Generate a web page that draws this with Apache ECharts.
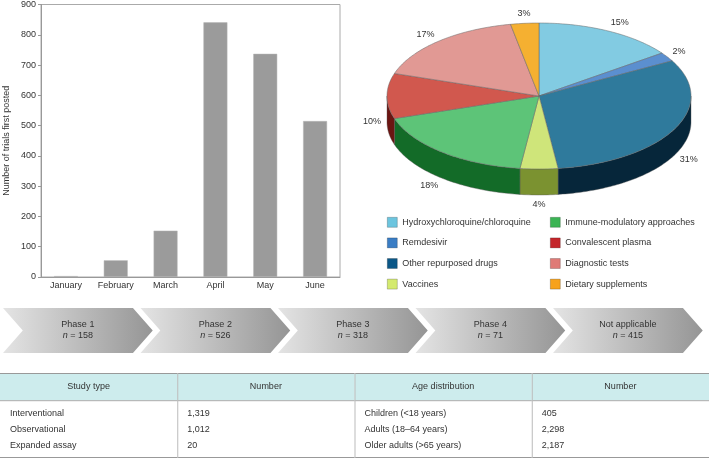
<!DOCTYPE html>
<html>
<head>
<meta charset="utf-8">
<title>COVID-19 trials</title>
<script src="https://cdn.jsdelivr.net/npm/echarts@6/dist/echarts.min.js"></script>
<style>
html, body { margin: 0; padding: 0; background: #fff; }
#main { width: 709px; height: 459px; }
</style>
</head>
<body>
<div id="main"></div>
<script>
// bar chart: trials first posted per month
var months = ['January', 'February', 'March', 'April', 'May', 'June'];
var trialsPosted = [3, 55, 153, 841, 737, 515];

// pie: share of trials by intervention
var interventions = ['Hydroxychloroquine/chloroquine', 'Remdesivir', 'Other repurposed drugs', 'Vaccines',
  'Immune-modulatory approaches', 'Convalescent plasma', 'Diagnostic tests', 'Dietary supplements'];
var shares = [15, 2, 31, 4, 18, 10, 17, 3];
var topColors = ['#82cbe2', '#5b8fcf', '#2f7a9c', '#cfe57a', '#5dc478', '#d1584e', '#e19994', '#f5b031'];
var sideColors = ['#3d7f94', '#1f3f6e', '#06263a', '#7b9230', '#136b28', '#6b1512', '#8a4541', '#9a6a10'];
var legendColors = ['#6cc5df', '#3a7dc4', '#0b5787', '#d4ea6e', '#3bb454', '#c4262b', '#df7a76', '#f7a21b'];

// chevrons: trial phases
var phases = ['Phase 1', 'Phase 2', 'Phase 3', 'Phase 4', 'Not applicable'];
var phaseCounts = [158, 526, 318, 71, 415];

// table
var tableHeaders = ['Study type', 'Number', 'Age distribution', 'Number'];
var studyTypes = ['Interventional', 'Observational', 'Expanded assay'];
var studyCounts = [1319, 1012, 20];
var ageGroups = ['Children (<18 years)', 'Adults (18\u201364 years)', 'Older adults (>65 years)'];
var ageCounts = [405, 2298, 2187];

var FONT = 'Liberation Sans';
var fmt = function (n) { return n.toLocaleString('en-US'); };
var tableColumns = [studyTypes, studyCounts.map(fmt), ageGroups, ageCounts.map(fmt)];

var total = shares.reduce(function (a, b) { return a + b; }, 0);
var startAngles = [];
var acc = 0;
shares.forEach(function (s) { startAngles.push(acc / total * 360); acc += s; });

var chart = echarts.init(document.getElementById('main'));

function renderSlice(params, api) {
  var i = params.dataIndex;
  var a0 = startAngles[i];
  var a1 = a0 + api.value(2) / total * 360;
  var depth = 26;
  var pt = function (deg, kx, ky) {
    var r = deg * Math.PI / 180;
    return api.coord([kx * Math.sin(r), ky * Math.cos(r)]);
  };
  var children = [];
  var top = [api.coord([0, 0])];
  for (var d = a0; d < a1; d += 1) top.push(pt(d, 1, 1));
  top.push(pt(a1, 1, 1));
  children.push({
    type: 'polygon', z2: 10, shape: { points: top },
    style: { fill: topColors[i], stroke: '#666', lineWidth: 0.5 }
  });
  var s0 = Math.max(a0, 90), s1 = Math.min(a1, 270);
  if (s1 > s0) {
    var upper = [];
    for (var e = s0; e < s1; e += 1) upper.push(pt(e, 1, 1));
    upper.push(pt(s1, 1, 1));
    var lower = upper.map(function (p) { return [p[0], p[1] + depth]; }).reverse();
    children.push({
      type: 'polygon', z2: 1, shape: { points: upper.concat(lower) },
      style: { fill: sideColors[i], stroke: '#555', lineWidth: 0.4 }
    });
  }
  var mid = (a0 + a1) / 2 * Math.PI / 180;
  var sn = Math.sin(mid), cs = Math.cos(mid);
  var lp = api.coord([1.04 * sn, 1.13 * cs]);
  if (cs < 0) lp[1] += depth;
  children.push({
    type: 'text', z2: 20, x: lp[0], y: lp[1],
    style: {
      text: api.value(2) + '%', fill: '#333', fontSize: 9, fontFamily: FONT,
      align: Math.abs(sn) < 0.2 ? 'center' : (sn > 0 ? 'left' : 'right'),
      verticalAlign: 'middle'
    }
  });
  return { type: 'group', children: children };
}

function renderChevron(params, api) {
  var i = api.value(0);
  var tl = api.coord([i, 1]);
  var br = api.coord([i + 1, 0]);
  var h = br[1] - tl[1];
  var body = (br[0] - tl[0]) * 0.945;
  var tip = h * 0.44;
  var x0 = tl[0], y0 = tl[1], my = y0 + h / 2;
  var pts = [[x0, y0], [x0 + body, y0], [x0 + body + tip, my], [x0 + body, y0 + h], [x0, y0 + h], [x0 + tip, my]];
  var cx = x0 + (body + tip) / 2;
  return {
    type: 'group',
    children: [
      {
        type: 'polygon', shape: { points: pts },
        style: {
          fill: new echarts.graphic.LinearGradient(0, 0, 1, 0, [
            { offset: 0, color: '#e4e4e4' }, { offset: 1, color: '#959595' }
          ])
        }
      },
      {
        type: 'text', x: cx, y: my - 6,
        style: { text: phases[i], fill: '#333', fontSize: 9, fontFamily: FONT, align: 'center', verticalAlign: 'middle' }
      },
      {
        type: 'text', x: cx, y: my + 5,
        style: {
          text: '{i|n} = ' + api.value(2), fill: '#333', fontSize: 9, fontFamily: FONT,
          align: 'center', verticalAlign: 'middle',
          rich: { i: { fontStyle: 'italic', fontSize: 9, fontFamily: FONT, fill: '#333' } }
        }
      }
    ]
  };
}

var headerEnd = 0.32;
var rowPos = [0.474, 0.67, 0.85];

function renderColumn(params, api) {
  var c = api.value(0);
  var p0 = api.coord([c, 0]);
  var p1 = api.coord([c + 1, headerEnd]);
  var p2 = api.coord([c + 1, 1]);
  var line = function (x1, y1, x2, y2, col) {
    return { type: 'line', z2: 5, shape: { x1: x1, y1: y1, x2: x2, y2: y2 }, style: { stroke: col, lineWidth: 1 } };
  };
  var children = [
    { type: 'rect', shape: { x: p0[0], y: p0[1], width: p1[0] - p0[0], height: p1[1] - p0[1] }, style: { fill: '#cdeced' } },
    line(p0[0], p0[1] + 0.5, p2[0], p0[1] + 0.5, '#999'),
    line(p0[0], p1[1] + 0.5, p2[0], p1[1] + 0.5, '#aaa'),
    line(p0[0], p2[1] - 0.5, p2[0], p2[1] - 0.5, '#999'),
    {
      type: 'text', x: (p0[0] + p2[0]) / 2, y: (p0[1] + p1[1]) / 2,
      style: { text: tableHeaders[c], fill: '#333', fontSize: 9, fontFamily: FONT, align: 'center', verticalAlign: 'middle' }
    }
  ];
  if (c > 0) children.push(line(p0[0] + 0.5, p0[1], p0[0] + 0.5, p2[1], '#bbb'));
  tableColumns[c].forEach(function (t, r) {
    var q = api.coord([c, rowPos[r]]);
    children.push({
      type: 'text', x: q[0] + 10, y: q[1],
      style: { text: t, fill: '#333', fontSize: 9, fontFamily: FONT, align: 'left', verticalAlign: 'middle' }
    });
  });
  return { type: 'group', children: children };
}

function legendData(from, to) {
  var out = [];
  for (var i = from; i < to; i++) {
    out.push({
      name: interventions[i],
      itemStyle: { color: legendColors[i], borderColor: 'rgba(0,0,0,0.35)', borderWidth: 0.6 }
    });
  }
  return out;
}

var legendBase = {
  orient: 'vertical', top: 217, padding: 0, itemWidth: 10, itemHeight: 10, itemGap: 10,
  icon: 'rect', selectedMode: false,
  textStyle: { fontSize: 9, color: '#333', fontFamily: FONT }
};

var option = {
  animation: false,
  textStyle: { fontFamily: FONT },
  legend: [
    Object.assign({ left: 387, data: legendData(0, 4) }, legendBase),
    Object.assign({ left: 550, data: legendData(4, 8) }, legendBase)
  ],
  grid: [
    { left: 41, top: 3, width: 299, height: 274, show: true, borderColor: '#aaa', borderWidth: 1, backgroundColor: 'transparent' },
    { left: 3, top: 308, width: 687.5, height: 45 },
    { left: 0, top: 373, width: 709, height: 85 },
    { left: 387, top: 23, width: 304, height: 146 }
  ],
  xAxis: [
    {
      gridIndex: 0, type: 'category', data: months,
      axisLine: { lineStyle: { color: '#999' } }, axisTick: { show: false },
      axisLabel: { fontSize: 9, color: '#333', margin: 4 }
    },
    { gridIndex: 1, type: 'value', min: 0, max: 5, show: false },
    { gridIndex: 2, type: 'value', min: 0, max: 4, show: false },
    { gridIndex: 3, type: 'value', min: -1, max: 1, show: false }
  ],
  yAxis: [
    {
      gridIndex: 0, type: 'value', min: 0, max: 900, interval: 100,
      name: 'Number of trials first posted', nameLocation: 'middle', nameRotate: 90, nameGap: 30,
      nameTextStyle: { fontSize: 9, color: '#333' },
      axisLine: { show: true, lineStyle: { color: '#999' } },
      axisTick: { show: true, length: 3, lineStyle: { color: '#999' } },
      splitLine: { show: false },
      axisLabel: { fontSize: 9, color: '#333', margin: 5 }
    },
    { gridIndex: 1, type: 'value', min: 0, max: 1, show: false },
    { gridIndex: 2, type: 'value', min: 0, max: 1, inverse: true, show: false },
    { gridIndex: 3, type: 'value', min: -1, max: 1, show: false }
  ],
  series: [
    {
      type: 'bar', xAxisIndex: 0, yAxisIndex: 0, data: trialsPosted, barWidth: '48%',
      itemStyle: { color: '#9b9b9b', borderColor: '#b5b5b5', borderWidth: 0.5 }
    },
    {
      type: 'custom', xAxisIndex: 1, yAxisIndex: 1, renderItem: renderChevron, silent: true,
      data: phaseCounts.map(function (n, i) { return [i, 0.5, n]; })
    },
    {
      type: 'custom', xAxisIndex: 2, yAxisIndex: 2, renderItem: renderColumn, silent: true,
      data: tableHeaders.map(function (h, i) { return [i, 0.5]; })
    },
    {
      type: 'custom', xAxisIndex: 3, yAxisIndex: 3, renderItem: renderSlice, silent: true,
      data: shares.map(function (s) { return [0, 0, s]; })
    },
    {
      // carries the legend entries only
      type: 'pie', radius: [0, 0], center: [539, 96], silent: true,
      label: { show: false }, labelLine: { show: false },
      itemStyle: { borderWidth: 0 },
      data: interventions.map(function (n, i) {
        return { name: n, value: shares[i], itemStyle: { color: legendColors[i] } };
      })
    }
  ]
};

chart.setOption(option);
</script>
</body>
</html>
